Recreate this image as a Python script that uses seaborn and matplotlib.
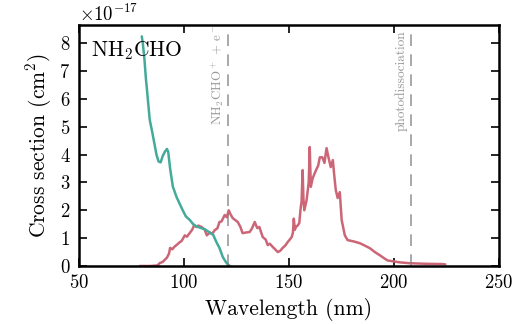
import numpy as np
import pandas as pd
import matplotlib
matplotlib.use("Agg")
import matplotlib.pyplot as plt
import seaborn as sns

# Photoionisation (teal) cross section, units of 1e-17 cm^2
ion_wl = [80.0, 80.5, 81.3, 82.0, 82.4, 83.0, 83.8, 85.0, 86.0, 87.0, 88.0, 89.0,
          90.0, 91.0, 92.0, 92.6, 93.5, 94.8, 96.6, 99.0, 101.0, 102.9, 104.5, 106.0,
          107.6, 110.0, 112.0, 114.0, 115.6, 117.0, 118.6, 120.0, 121.0, 122.0]
ion_xs = [8.24, 8.0, 7.4, 6.7, 6.4, 5.9, 5.25, 4.8, 4.4, 4.0, 3.75, 3.72,
          3.95, 4.1, 4.2, 4.1, 3.5, 2.85, 2.47, 2.08, 1.78, 1.65, 1.5, 1.42,
          1.38, 1.32, 1.22, 1.12, 0.85, 0.65, 0.32, 0.15, 0.05, 0.0]

# Photodissociation (rose) cross section, units of 1e-17 cm^2
dis_wl = [79.0, 84.0, 87.5, 88.5, 90.0, 92.0, 93.0, 93.5, 94.5, 95.7, 97.0, 98.0,
          99.0, 100.5, 101.5, 103.0, 104.0, 105.0, 106.0, 107.0, 108.5, 110.0, 111.0,
          112.4, 113.5, 114.8, 116.0, 117.0, 118.0, 119.5, 120.5, 121.4, 122.3, 123.3,
          124.5, 125.7, 127.0, 128.0, 129.5, 131.4, 132.5, 133.8, 134.5, 135.0, 136.0,
          137.6, 139.0, 140.0, 141.0, 142.4, 143.5, 144.8, 146.0, 147.0, 148.5, 149.5,
          150.5, 151.4, 152.0, 152.4, 152.9, 153.4, 154.2, 155.0, 155.7, 156.1, 156.6,
          157.0, 157.4, 158.5, 159.5, 160.0, 160.5, 161.4, 162.2, 163.0, 164.0, 164.8,
          166.0, 167.0, 168.0, 169.0, 170.0, 171.0, 171.6, 172.4, 173.3, 174.3, 175.2,
          176.7, 178.0, 181.0, 183.8, 186.0, 188.6, 191.0, 193.3, 195.0, 197.0, 199.5,
          203.0, 207.6, 215.0, 223.0, 224.5]
dis_xs = [0.0, 0.0, 0.02, 0.1, 0.15, 0.3, 0.45, 0.65, 0.6, 0.7, 0.78, 0.85,
          0.9, 1.1, 1.05, 1.2, 1.3, 1.47, 1.4, 1.45, 1.4, 1.3, 1.1,
          1.2, 1.15, 1.29, 1.35, 1.58, 1.6, 1.83, 1.75, 2.0, 1.85, 1.72,
          1.65, 1.58, 1.4, 1.18, 1.2, 1.22, 1.35, 1.58, 1.45, 1.36, 1.4,
          1.04, 0.95, 0.75, 0.8, 0.68, 0.6, 0.5, 0.55, 0.64, 0.75, 0.86,
          0.95, 1.04, 1.2, 1.7, 1.3, 1.4, 1.45, 1.54, 2.1, 2.3, 3.44,
          2.4, 2.0, 2.36, 3.0, 4.27, 2.84, 3.15, 3.3, 3.44, 3.6, 3.9,
          3.9, 3.7, 4.23, 3.87, 3.55, 3.8, 3.3, 2.72, 2.44, 2.65, 1.65,
          1.1, 0.93, 0.88, 0.82, 0.74, 0.64, 0.5, 0.39, 0.3, 0.2, 0.17,
          0.13, 0.1, 0.08, 0.07, 0.06]

ion_threshold = 121.0
dis_threshold = 208.0

scale = 1e-17
df_ion = pd.DataFrame({"wl": ion_wl, "xs": np.array(ion_xs) * scale})
df_dis = pd.DataFrame({"wl": dis_wl, "xs": np.array(dis_xs) * scale})

sns.set_style("ticks")
plt.rcParams["font.family"] = "serif"
plt.rcParams["font.serif"] = ["cmr10", "DejaVu Serif"]
plt.rcParams["mathtext.fontset"] = "cm"
plt.rcParams["axes.formatter.use_mathtext"] = True
plt.rcParams["axes.unicode_minus"] = False
plt.rcParams["text.color"] = "black"
plt.rcParams["axes.labelcolor"] = "black"
plt.rcParams["xtick.color"] = "black"
plt.rcParams["ytick.color"] = "black"
plt.rcParams["axes.edgecolor"] = "black"

fig = plt.figure(figsize=(5.25, 3.24), dpi=100)
ax = fig.add_axes([0.150, 0.179, 0.800, 0.744])

sns.lineplot(data=df_dis, x="wl", y="xs", ax=ax, color="#CC6677", lw=1.8,
             sort=False, estimator=None)
sns.lineplot(data=df_ion, x="wl", y="xs", ax=ax, color="#44AA99", lw=1.8,
             sort=False, estimator=None)

ax.axvline(ion_threshold, color="gray", ls=(0, (7, 5)), lw=1.2, alpha=0.8)
ax.axvline(dis_threshold, color="gray", ls=(0, (7, 5)), lw=1.2, alpha=0.8)

ax.text(ion_threshold - 5.0, 8.68e-17, r"NH$_2$CHO$^+$ + e$^-$", rotation=90,
        ha="center", va="top", color="#999999", fontsize=9.3)
ax.text(dis_threshold - 4.6, 8.47e-17, "photodissociation", rotation=90,
        ha="center", va="top", color="#999999", fontsize=9.6)

ax.text(0.03, 0.94, r"NH$_2$CHO", transform=ax.transAxes, ha="left", va="top",
        fontsize=15.5)

ax.set_xlim(50, 250)
ax.set_ylim(0, 8.65e-17)
ax.set_xticks([50, 100, 150, 200, 250])
ax.set_yticks(np.arange(0, 9) * scale)
ax.set_xlabel("Wavelength (nm)", fontsize=15.5, labelpad=4)
ax.set_ylabel(r"Cross section (cm$^2$)", fontsize=15.5, labelpad=4)
ax.tick_params(direction="in", top=True, right=True, labelsize=13.5, width=1.2,
               length=6, pad=6)
ax.yaxis.get_offset_text().set_fontsize(13.5)
for s in ax.spines.values():
    s.set_linewidth(1.8)

fig.savefig("out.png", dpi=100)
